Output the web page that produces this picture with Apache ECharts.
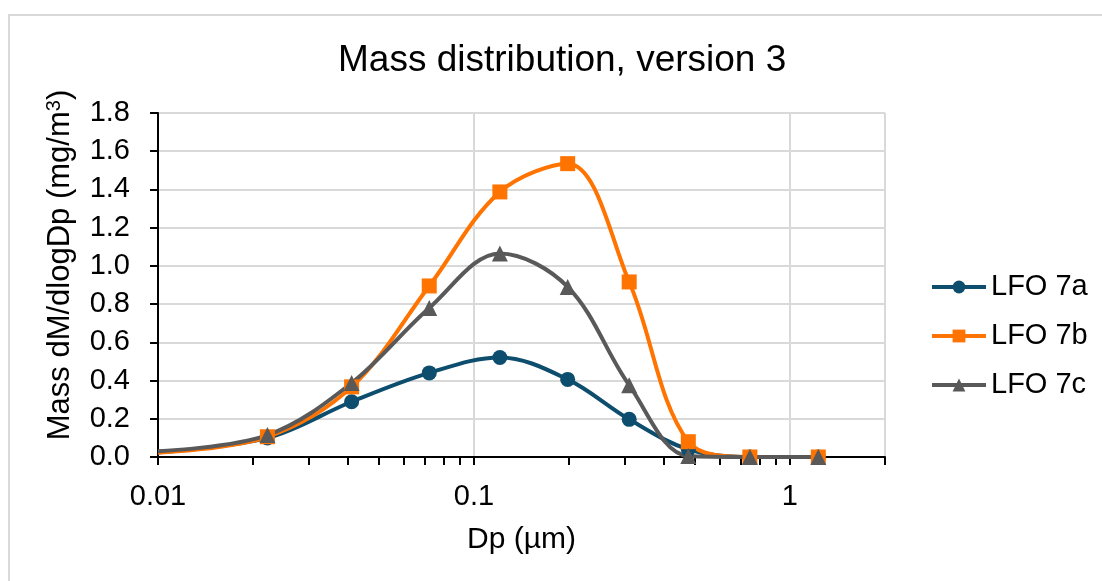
<!DOCTYPE html>
<html>
<head>
<meta charset="utf-8">
<script src="https://cdn.jsdelivr.net/npm/echarts@6/dist/echarts.min.js"></script>
<style>
  html, body { margin: 0; padding: 0; background: #fff; }
  #chart { width: 1102px; height: 581px; }
</style>
</head>
<body>
<div id="chart"></div>
<script>
// particle diameter (µm)
const diameters = [0.01, 0.0222, 0.041, 0.0722, 0.1208, 0.198, 0.31, 0.477, 0.747, 1.23];
const lfo7a = [0.025, 0.10, 0.289, 0.44, 0.521, 0.406, 0.197, 0.04, 0, 0];
const lfo7b = [0.022, 0.106, 0.367, 0.895, 1.387, 1.535, 0.916, 0.08, 0, 0];
const lfo7c = [0.03, 0.115, 0.387, 0.78, 1.065, 0.89, 0.376, 0.005, 0, 0];
const xMajorLabels = [0.01, 0.1, 1];
const xTicks = [0.01, 0.02, 0.03, 0.04, 0.05, 0.06, 0.07, 0.08, 0.09,
                0.1, 0.2, 0.3, 0.4, 0.5, 0.6, 0.7, 0.8, 0.9, 1, 2];

const FONT = "'Liberation Sans', Arial, sans-serif";

function toPoints(values) {
    // first point sits on the axis edge, Excel shows it without a marker
    return values.map((v, i) => i === 0
        ? { value: [diameters[i], v], symbol: "none" }
        : [diameters[i], v]);
}

function makeSeries(name, values, color, symbol, size) {
    return {
        name: name,
        type: "line",
        xAxisIndex: 0,
        data: toPoints(values),
        smooth: 0.35,
        symbol: symbol,
        symbolSize: size,
        lineStyle: { color: color, width: 4 },
        itemStyle: { color: color },
        z: 3
    };
}

const chart = echarts.init(document.getElementById("chart"));

chart.setOption({
    animation: false,
    backgroundColor: "#fff",
    title: {
        text: "Mass distribution, version 3",
        left: 333,
        top: 37,
        textStyle: { fontFamily: FONT, fontSize: 37, fontWeight: "normal", color: "#000" }
    },
    legend: {
        orient: "vertical",
        left: 925,
        top: 267,
        itemWidth: 54,
        itemHeight: 16,
        itemGap: 19,
        lineStyle: { width: 4 },
        textStyle: { fontFamily: FONT, fontSize: 29, color: "#000", lineHeight: 30 },
        data: ["LFO 7a", "LFO 7b", "LFO 7c"]
    },
    grid: { left: 158, right: 217, top: 113, bottom: 124 },
    xAxis: [
        {
            type: "log",
            logBase: 10,
            min: 0.01,
            max: 2,
            name: "Dp (µm)",
            nameLocation: "middle",
            nameGap: 68,
            nameTextStyle: { fontFamily: FONT, fontSize: 30, color: "#000" },
            axisLine: { show: true, lineStyle: { color: "#000", width: 2 } },
            axisTick: { show: true, length: 8, lineStyle: { color: "#000", width: 2 }, customValues: xTicks },
            axisLabel: {
                fontFamily: FONT, fontSize: 29, color: "#000", margin: 25,
                customValues: xMajorLabels,
                formatter: (v) => String(+v.toPrecision(3))
            },
            splitLine: { show: false },
            z: 2
        },
        {
            type: "log",
            logBase: 10,
            min: 0.01,
            max: 2,
            position: "bottom",
            axisLine: { show: false },
            axisTick: { show: false },
            axisLabel: { show: false },
            splitLine: { show: true, lineStyle: { color: "#d9d9d9", width: 2 } },
            z: 0
        }
    ],
    yAxis: {
        type: "value",
        min: 0,
        max: 1.8,
        interval: 0.2,
        name: "{n|Mass dM/dlogDp (mg/m}{s|3}{n|)}",
        nameLocation: "middle",
        nameGap: 82,
        nameRotate: 90,
        nameTextStyle: {
            padding: [0, 0, 0, 40],
            rich: {
                n: { fontFamily: FONT, fontSize: 31, color: "#000" },
                s: { fontFamily: FONT, fontSize: 20, color: "#000", verticalAlign: "top", padding: [0, 0, 12, 0] }
            }
        },
        axisLine: { show: true, lineStyle: { color: "#000", width: 2 } },
        axisTick: { show: true, length: 8, lineStyle: { color: "#000", width: 2 } },
        axisLabel: {
            fontFamily: FONT, fontSize: 29, color: "#000", margin: 28,
            formatter: (v) => v.toFixed(1)
        },
        splitLine: { show: true, lineStyle: { color: "#d9d9d9", width: 2 } }
    },
    graphic: [
        {
            type: "rect",
            shape: { x: 9, y: 15, width: 1100, height: 600 },
            style: { fill: "none", stroke: "#d9d9d9", lineWidth: 2 },
            silent: true
        }
    ],
    series: [
        makeSeries("LFO 7a", lfo7a, "#0d4d6e", "circle", 15),
        makeSeries("LFO 7b", lfo7b, "#ff7300", "rect", 15),
        makeSeries("LFO 7c", lfo7c, "#595959", "triangle", 16)
    ]
});
</script>
</body>
</html>
